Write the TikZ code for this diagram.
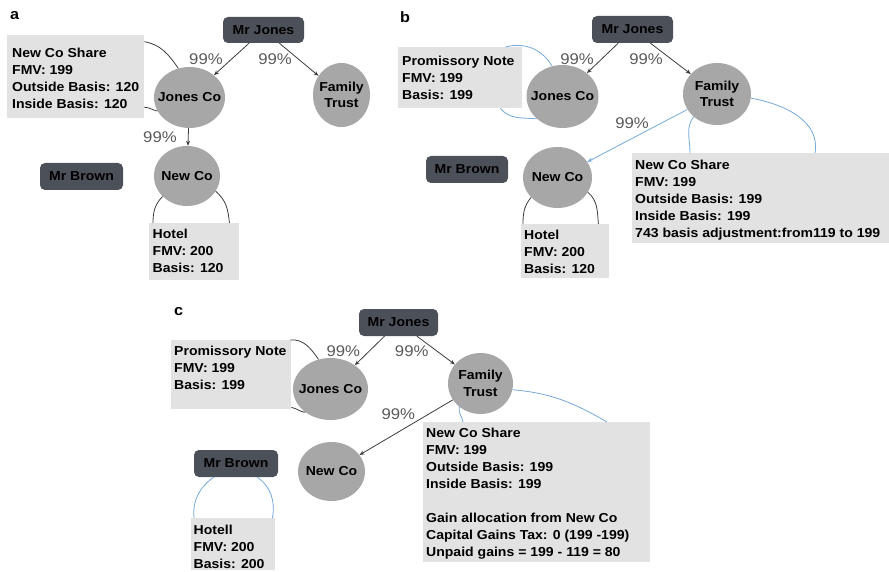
\documentclass[tikz,border=0pt]{standalone}
\usepackage{fontspec}
\setmainfont{Liberation Sans}
\newfontfamily\wfont[FakeStretch=1.08]{Liberation Sans}
\usetikzlibrary{shapes.geometric,calc,arrows.meta}
\definecolor{circfill}{HTML}{A7A7A7}
\definecolor{darkbox}{HTML}{4C5058}
\definecolor{lightbox}{HTML}{E2E2E2}
\definecolor{pctgray}{HTML}{5A5A5A}
\definecolor{linkblue}{HTML}{74A9DA}
\definecolor{arcgray}{HTML}{3C3C3C}
\begin{document}
\begin{tikzpicture}[x=1pt,y=-1pt,
 entity/.style={ellipse, fill=circfill, inner sep=0pt},
 ctext/.style={font=\wfont\bfseries\fontsize{13}{16.5}\selectfont, align=center, text=black, inner sep=0pt},
 person/.style={rounded corners=5pt, fill=darkbox, inner sep=0pt, font=\wfont\bfseries\fontsize{13}{15}\selectfont, text=black},
 infobox/.style={fill=lightbox, inner sep=0pt, anchor=north west},
 infotext/.style={font=\wfont\bfseries\fontsize{13}{17}\selectfont, align=left, anchor=north west, inner sep=0pt},
 pct/.style={font=\wfont\fontsize{15.5}{18}\selectfont, text=pctgray, inner sep=0pt},
 panel/.style={font=\wfont\bfseries\fontsize{15}{18}\selectfont, anchor=base west, inner sep=0pt},
 own/.style={-{Stealth[length=5pt,width=4pt]}, line width=0.8pt, draw=arcgray},
 arcline/.style={line width=0.8pt, draw=arcgray},
 arcblue/.style={line width=0.8pt, draw=linkblue},
]
\useasboundingbox (0,0) rectangle (889,572);

% ---------------- panel a ----------------
\node[panel] (labA) at (10,19.3) {a};
\node[person, minimum width=81pt, minimum height=26pt] (mjA) at (263.5,30) {Mr Jones};
\node[person, minimum width=83pt, minimum height=27pt] (mbA) at (81.5,176.5) {Mr Brown};
\node[entity, minimum width=71pt, minimum height=61pt, label={[ctext]center:Jones Co}] (jcA) at (189.5,97.5) {};
\node[entity, minimum width=57pt, minimum height=64pt, label={[ctext]center:Family\\Trust}] (ftA) at (341.5,95) {};
\node[entity, minimum width=66pt, minimum height=60pt, label={[ctext]center:New Co}] (ncA) at (187,176) {};
\node[infobox, minimum width=137pt, minimum height=83pt] (ncsA) at (7,35) {};
\node[infotext] (ncsAt) at (12,47.5) {New Co Share\\FMV: 199\\Outside Basis: 120\\Inside Basis: 120};
\node[infobox, minimum width=90pt, minimum height=57pt] (hotA) at (149,223) {};
\node[infotext] (hotAt) at (152.5,228.5) {Hotel\\FMV: 200\\Basis: 120};
\draw[own] (mjA) -- (jcA);
\draw[own] (mjA) -- (ftA);
\draw[own] (jcA) -- (ncA);
\node[pct] (pA1) at (206,59) {99\%};
\node[pct] (pA2) at (275,59) {99\%};
\node[pct] (pA3) at (160,137) {99\%};
\draw[arcline] (ncsA.27) to[out=-10,in=125] (jcA.111);
\draw[arcline] (ncsA.-24) to[out=0,in=170] (jcA.203);
\draw[arcline] (ncA.220) to[out=225,in=90] ($(hotA.north west)+(4,0)$);
\draw[arcline] (ncA.-28) to[out=-40,in=95] ($(hotA.north east)+(-10,0)$);

% ---------------- panel b ----------------
\node[panel] (labB) at (400,22.7) {b};
\node[person, minimum width=81pt, minimum height=27pt] (mjB) at (632.5,29.5) {Mr Jones};
\node[person, minimum width=82pt, minimum height=27pt] (mbB) at (467,169.5) {Mr Brown};
\node[entity, minimum width=72pt, minimum height=63pt, label={[ctext]center:Jones Co}] (jcB) at (562.5,96.5) {};
\node[entity, minimum width=68pt, minimum height=62pt, label={[ctext]center:Family\\Trust}] (ftB) at (717,94) {};
\node[entity, minimum width=69pt, minimum height=61pt, label={[ctext]center:New Co}] (ncB) at (557.5,177.5) {};
\node[infobox, minimum width=124pt, minimum height=61pt] (pnB) at (398,47) {};
\node[infotext] (pnBt) at (402,56.3) {Promissory Note\\FMV: 199\\Basis: 199};
\node[infobox, minimum width=257pt, minimum height=90pt] (ncsB) at (632,153) {};
\node[infotext] (ncsBt) at (635,160.3) {New Co Share\\FMV: 199\\Outside Basis: 199\\Inside Basis: 199\\743 basis adjustment:from119 to 199};
\node[infobox, minimum width=88pt, minimum height=54pt] (hotB) at (521,224) {};
\node[infotext] (hotBt) at (524,229.5) {Hotel\\FMV: 200\\Basis: 120};
\draw[own] (mjB) -- (jcB);
\draw[own] (mjB) -- (ftB);
\draw[own, draw=linkblue] (ftB) -- (ncB);
\node[pct] (pB1) at (577,59) {99\%};
\node[pct] (pB2) at (646,59) {99\%};
\node[pct] (pB3) at (632,123) {99\%};
\draw[arcblue] ($(pnB.north east)+(-17,0)$) to[out=15,in=120] (jcB.109);
\draw[arcblue] ($(pnB.south east)+(-22,0)$) to[out=-50,in=175] (jcB.221);
\draw[arcblue] (ftB.224) to[out=235,in=90] ($(ncsB.north west)+(58,0)$);
\draw[arcblue] (ftB.-7) to[out=-10,in=80] ($(ncsB.north west)+(183,0)$);
\draw[arcline] (ncB.217) to[out=230,in=90] ($(hotB.north west)+(2,0)$);
\draw[arcline] (ncB.-26) to[out=-40,in=95] ($(hotB.north east)+(-11,0)$);

% ---------------- panel c ----------------
\node[panel] (labC) at (174,315) {c};
\node[person, minimum width=79pt, minimum height=27pt] (mjC) at (398.5,322.5) {Mr Jones};
\node[person, minimum width=84pt, minimum height=27pt] (mbC) at (236,463.5) {Mr Brown};
\node[entity, minimum width=75pt, minimum height=62pt, label={[ctext]center:Jones Co}] (jcC) at (330.5,389) {};
\node[entity, minimum width=65pt, minimum height=61pt, label={[ctext]center:Family\\Trust}] (ftC) at (480.5,383.5) {};
\node[entity, minimum width=67pt, minimum height=59pt, label={[ctext]center:New Co}] (ncC) at (331.5,471.5) {};
\node[infobox, minimum width=120pt, minimum height=69pt] (pnC) at (171,340) {};
\node[infotext] (pnCt) at (174,346.3) {Promissory Note\\FMV: 199\\Basis: 199};
\node[infobox, minimum width=227pt, minimum height=140pt] (ncsC) at (423,422) {};
\node[infotext] (ncsCt) at (426,428.3) {New Co Share\\FMV: 199\\Outside Basis: 199\\Inside Basis: 199\\[17pt]Gain allocation from New Co\\Capital Gains Tax: 0 (199 -199)\\Unpaid gains = 199 - 119 = 80};
\node[infobox, minimum width=84pt, minimum height=52pt] (hlC) at (191,518) {};
\node[infotext] (hlCt) at (193.5,524.5) {Hotell\\FMV: 200\\Basis: 200};
\draw[own] (mjC) -- (jcC);
\draw[own] (mjC) -- (ftC);
\draw[own] (ftC) -- (ncC);
\node[pct] (pC1) at (343.3,351) {99\%};
\node[pct] (pC2) at (411.7,351) {99\%};
\node[pct] (pC3) at (398.3,414) {99\%};
\draw[arcline] ($(pnC.north east)+(-1,0)$) to[out=5,in=125] (jcC.112);
\draw[arcline] ($(pnC.south east)+(0,-2)$) to[out=-10,in=175] (jcC.223);
\draw[arcblue] (ftC.228) to[out=255,in=100] ($(ncsC.north west)+(40,0)$);
\draw[arcblue] (ftC.-11) to[out=-5,in=150] ($(ncsC.north west)+(184,0)$);
\draw[arcblue] ($(mbC.south west)+(20,0)$) to[out=215,in=95] ($(hlC.north west)+(3,0)$);
\draw[arcblue] ($(mbC.south east)+(-21,0)$) to[out=-35,in=80] ($(hlC.north east)+(-3,0)$);
\end{tikzpicture}
\end{document}
